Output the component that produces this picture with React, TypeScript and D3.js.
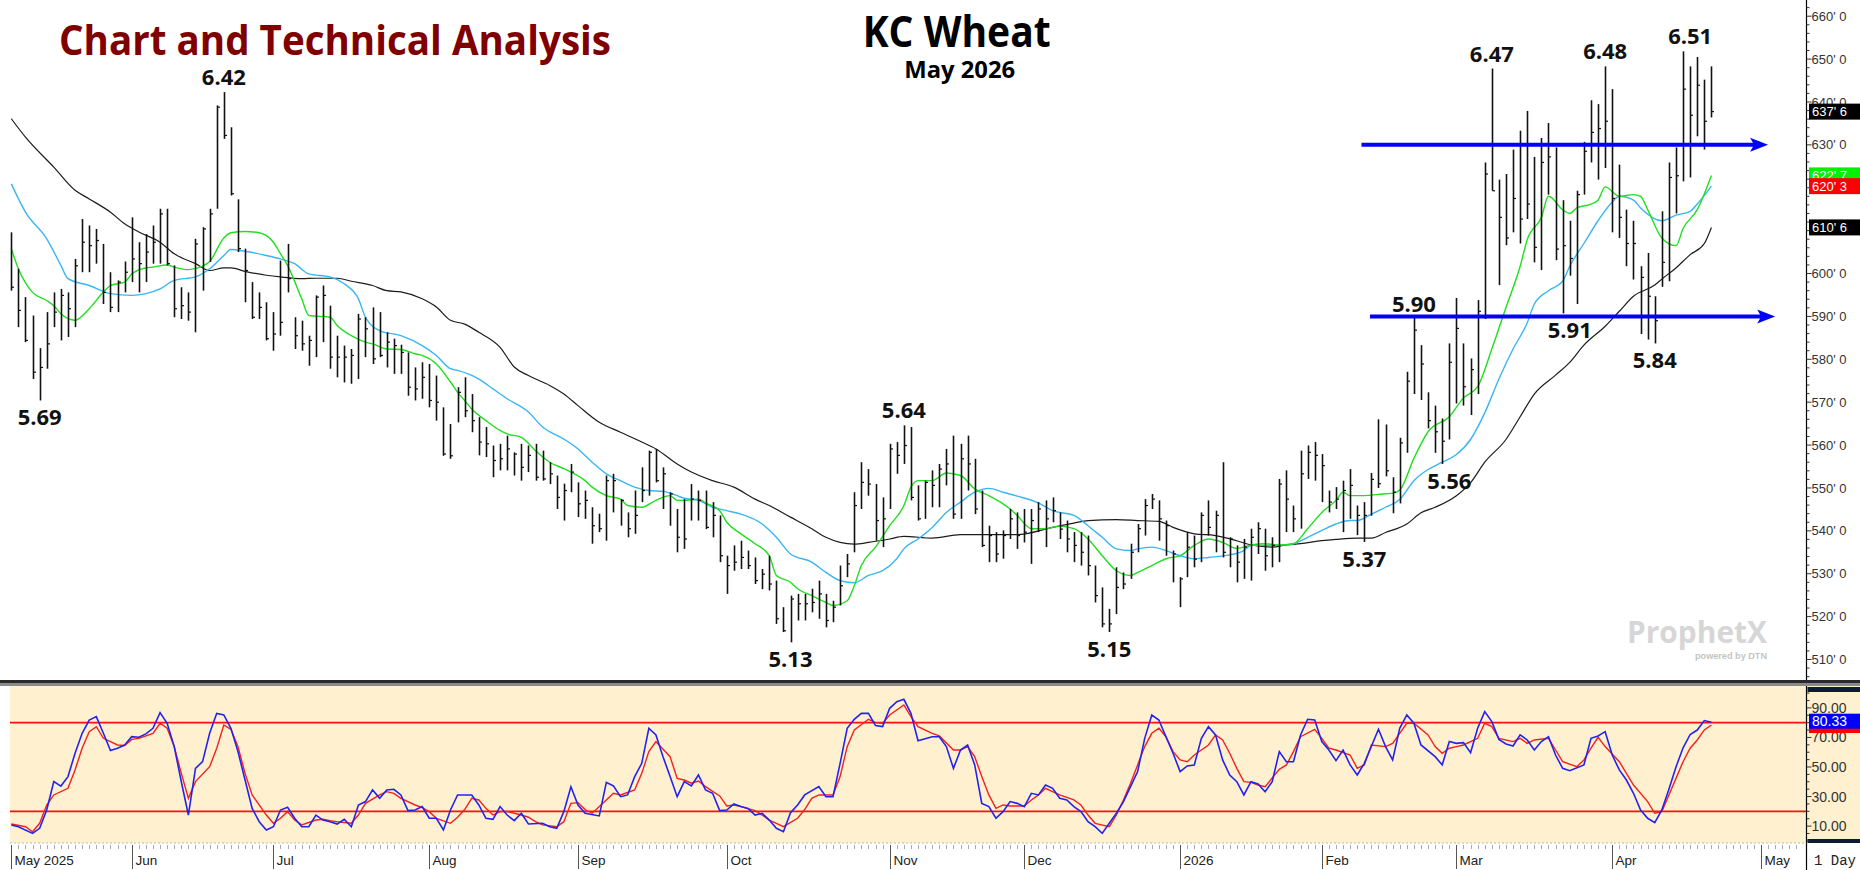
import React from "react";
import * as d3 from "d3";

// ---------- DATA ----------
// Daily bars, trading-day index 0 = 7 May 2025 ... 240 = 22 Apr 2026 (cents/bu)
const highs = [
  609.6, 601.1, 594.5, 590.2, 582.6, 591.0, 595.6, 596.4, 595.6, 603.4,
  612.7, 611.2, 610.4, 606.9, 600.3, 598.4, 602.8, 613.1, 607.3, 609.2,
  611.2, 615.1, 615.1, 601.9, 596.8, 595.6, 608.1, 610.8, 615.1, 639.2,
  642.3, 634.1, 617.3, 605.8, 598.0, 595.6, 593.3, 591.0, 603.0, 606.9,
  589.8, 589.0, 585.5, 594.9, 597.2, 592.5, 585.5, 583.2, 582.4, 590.6,
  589.8, 592.1, 591.0, 586.3, 584.8, 583.4, 581.6, 578.1, 579.3, 578.9,
  576.2, 568.8, 564.9, 573.5, 575.8, 571.9, 566.5, 564.2, 559.9, 560.3,
  562.2, 558.3, 560.3, 559.9, 560.3, 558.7, 556.0, 552.9, 551.0, 555.6,
  551.3, 549.4, 545.5, 544.0, 552.9, 553.3, 547.4, 544.3, 549.4, 554.8,
  558.7, 559.1, 554.8, 549.0, 545.1, 547.4, 550.9, 549.4, 549.4, 546.7,
  543.6, 534.2, 536.6, 537.7, 535.4, 533.8, 531.1, 534.2, 528.4, 522.2,
  524.9, 525.3, 525.3, 526.5, 528.4, 525.3, 523.7, 531.9, 534.6, 549.0,
  556.0, 554.4, 550.9, 547.8, 560.3, 560.7, 564.6, 564.2, 550.6, 551.7,
  554.1, 555.6, 559.1, 562.2, 560.3, 562.2, 556.8, 549.4, 541.2, 539.7,
  540.1, 545.1, 544.3, 545.1, 545.1, 546.7, 547.1, 547.8, 544.3, 542.4,
  539.7, 539.7, 538.9, 531.9, 526.8, 521.8, 531.5, 530.3, 537.0, 541.6,
  547.4, 548.6, 547.1, 542.4, 535.4, 529.2, 539.7, 538.9, 544.3, 547.1,
  544.7, 556.0, 538.5, 536.6, 538.1, 540.5, 542.0, 540.5, 538.5, 552.1,
  554.1, 545.9, 558.7, 559.9, 560.7, 557.9, 549.4, 550.2, 551.7, 554.4,
  545.9, 546.7, 553.5, 566.0, 564.8, 552.5, 561.7, 577.1, 589.9, 583.3,
  572.3, 569.2, 566.2, 583.7, 594.3, 583.7, 580.2, 593.8, 625.9, 647.8,
  621.9, 623.2, 628.9, 633.3, 637.9, 627.2, 631.6, 635.1, 629.4, 617.1,
  612.3, 619.3, 630.7, 640.4, 639.5, 648.3, 643.0, 625.4, 614.9, 612.3,
  601.7, 604.8, 594.7, 614.5, 625.9, 629.4, 651.8, 648.3, 650.5, 645.2,
  648.3,
];
const lows = [
  596.0, 587.5, 584.0, 575.4, 570.4, 577.8, 587.5, 584.4, 585.2, 587.5,
  600.3, 600.3, 602.3, 592.9, 591.0, 591.0, 595.6, 598.0, 595.6, 598.0,
  602.3, 602.3, 601.9, 589.8, 589.4, 589.0, 586.3, 596.0, 602.7, 615.1,
  631.4, 618.2, 605.0, 593.3, 589.4, 589.4, 584.4, 582.0, 585.5, 595.6,
  582.4, 582.0, 578.5, 580.5, 584.0, 577.8, 575.8, 574.6, 574.3, 575.4,
  580.5, 578.9, 580.5, 578.1, 576.6, 576.6, 571.5, 570.4, 570.8, 568.8,
  565.7, 557.5, 556.8, 565.3, 566.5, 563.0, 557.6, 557.2, 552.5, 554.1,
  554.1, 552.9, 551.7, 553.7, 551.7, 551.7, 550.9, 545.1, 542.4, 549.0,
  543.2, 542.8, 537.0, 539.7, 537.7, 544.3, 541.2, 538.5, 539.3, 546.7,
  548.2, 551.3, 545.1, 541.2, 535.0, 535.8, 542.4, 542.4, 540.4, 538.5,
  532.7, 525.3, 530.7, 531.1, 531.1, 527.6, 526.4, 526.1, 518.3, 516.4,
  514.0, 519.1, 519.1, 521.0, 519.5, 517.5, 518.7, 522.6, 529.2, 535.0,
  545.1, 548.2, 537.7, 536.2, 545.1, 553.3, 555.6, 547.1, 542.4, 542.8,
  545.5, 545.5, 550.6, 542.8, 542.8, 549.4, 543.9, 536.2, 532.7, 532.7,
  533.5, 538.1, 535.8, 537.3, 532.3, 539.7, 536.2, 542.0, 538.1, 535.0,
  532.7, 531.9, 529.6, 523.3, 517.5, 516.4, 520.6, 526.4, 528.8, 535.0,
  538.9, 545.1, 537.7, 534.2, 528.0, 522.2, 529.2, 531.5, 532.7, 538.9,
  535.0, 533.8, 531.5, 528.0, 528.8, 528.4, 534.6, 530.7, 531.5, 532.7,
  539.7, 539.7, 540.5, 552.1, 551.7, 546.7, 544.3, 545.1, 539.7, 542.8,
  539.0, 537.4, 543.5, 550.0, 552.7, 544.1, 546.4, 558.2, 571.9, 570.5,
  563.9, 558.2, 555.6, 561.3, 569.7, 569.2, 567.0, 571.9, 589.4, 619.3,
  597.3, 606.6, 609.6, 607.0, 612.7, 602.6, 600.8, 618.4, 603.1, 590.7,
  599.5, 592.9, 618.4, 625.9, 621.9, 624.6, 609.6, 608.3, 601.7, 598.6,
  585.9, 584.6, 583.7, 596.9, 598.2, 614.0, 621.5, 622.4, 632.0, 628.9,
  636.4,
];
const closes = [
  596.8, 591.4, 584.4, 577.0, 578.1, 583.6, 591.0, 594.9, 591.8, 601.8,
  607.3, 606.5, 607.7, 595.6, 592.1, 598.0, 600.3, 603.4, 602.3, 605.0,
  607.3, 613.9, 602.3, 591.8, 592.5, 591.0, 606.9, 610.4, 613.9, 638.8,
  632.2, 618.6, 605.8, 600.7, 589.8, 592.1, 584.8, 585.9, 588.6, 598.8,
  585.5, 583.6, 584.4, 594.5, 594.9, 580.5, 580.5, 580.5, 580.9, 589.4,
  587.1, 580.1, 580.9, 584.0, 583.2, 581.6, 573.5, 573.1, 575.8, 570.4,
  570.0, 557.9, 557.5, 572.3, 568.0, 565.7, 560.7, 560.3, 556.4, 556.8,
  559.1, 557.9, 554.8, 557.6, 552.5, 552.1, 553.3, 547.8, 549.4, 553.7,
  546.3, 547.1, 541.2, 540.5, 551.7, 551.7, 547.1, 540.5, 543.6, 549.4,
  558.3, 551.7, 553.3, 548.6, 538.5, 538.1, 547.4, 547.1, 540.8, 543.6,
  534.2, 531.9, 532.7, 533.8, 531.9, 528.4, 529.9, 527.6, 519.5, 516.7,
  524.1, 523.0, 523.0, 523.3, 525.3, 519.1, 522.2, 527.2, 532.3, 545.9,
  551.3, 550.9, 542.4, 542.8, 559.1, 557.6, 559.9, 547.8, 542.8, 551.3,
  550.6, 554.4, 555.6, 543.9, 556.8, 555.6, 545.1, 536.6, 538.9, 534.6,
  538.9, 542.8, 538.9, 539.7, 542.4, 545.1, 542.8, 544.7, 540.4, 538.1,
  536.6, 535.0, 531.9, 524.9, 518.3, 518.3, 526.8, 527.6, 535.0, 540.5,
  545.9, 547.4, 542.8, 541.2, 534.6, 528.8, 536.2, 533.4, 543.6, 540.8,
  543.6, 535.0, 538.1, 532.7, 536.2, 538.5, 540.5, 534.2, 536.6, 550.9,
  547.4, 542.8, 553.3, 558.3, 557.6, 555.2, 546.7, 547.4, 549.4, 550.6,
  543.6, 543.6, 552.0, 551.0, 554.0, 549.0, 560.5, 574.9, 586.8, 578.9,
  565.7, 563.1, 560.9, 579.3, 587.2, 573.6, 577.6, 591.2, 623.2, 619.3,
  613.1, 608.3, 617.5, 612.7, 616.2, 606.1, 625.9, 627.2, 605.7, 606.5,
  603.5, 618.4, 628.5, 632.9, 633.8, 635.5, 617.5, 613.1, 607.0, 607.0,
  599.1, 594.7, 589.0, 602.6, 622.4, 622.8, 643.0, 636.9, 643.9, 635.5,
  637.75,
];

// Moving averages: [trading day, value]
const greenMA: [number, number][] = [
  [0, 605.8], [1, 601.1], [3, 595.6], [5, 593.7], [6, 592.5], [7, 590.6], [9, 589.1], [11, 591.8],
  [13, 595.7], [14, 597.2], [16, 598.0], [17, 599.9], [19, 601.3], [20, 601.5], [22, 602.0], [23, 601.5],
  [25, 600.9], [27, 601.7], [28, 602.8], [30, 608.3], [31, 609.5], [33, 609.8], [35, 609.5], [37, 607.3],
  [38, 604.6], [39, 601.9], [41, 594.1], [42, 590.2], [45, 589.8], [46, 587.9], [48, 585.5], [50, 584.0],
  [51, 583.6], [53, 582.4], [55, 582.3], [57, 581.3], [58, 580.9], [60, 578.9], [62, 574.7], [63, 572.3],
  [64, 570.4], [65, 568.4], [67, 565.7], [69, 563.4], [70, 562.6], [72, 561.8], [74, 558.7], [76, 556.0],
  [78, 554.5], [79, 553.7], [81, 551.7], [82, 550.2], [84, 548.2], [86, 547.4], [87, 545.9], [89, 545.5],
  [91, 547.1], [93, 548.2], [94, 547.1], [95, 547.1], [97, 547.4], [98, 546.5], [100, 544.7], [101, 542.0],
  [103, 539.3], [105, 537.0], [107, 534.2], [108, 529.6], [110, 528.0], [111, 526.5], [113, 524.9],
  [115, 523.3], [116, 522.6], [118, 523.7], [119, 527.2], [120, 531.9], [122, 536.2], [124, 541.2],
  [126, 545.9], [127, 550.2], [128, 551.7], [130, 551.7], [132, 553.5], [134, 552.9], [136, 549.8],
  [138, 548.2], [140, 546.3], [141, 545.1], [142, 543.6], [144, 540.5], [146, 540.5], [148, 541.1],
  [150, 540.5], [152, 538.1], [154, 534.2], [156, 530.7], [158, 529.6], [159, 530.3], [161, 531.9],
  [163, 533.5], [165, 534.2], [167, 536.6], [169, 538.1], [171, 537.3], [173, 535.9], [174, 536.2],
  [175, 536.7], [177, 537.0], [179, 536.7], [181, 537.0], [183, 540.5], [185, 544.3], [187, 547.1],
  [188, 549.0], [189, 548.2], [191, 548.2], [193, 548.5], [195, 548.8], [196, 549.5], [198, 556.9],
  [200, 563.1], [203, 566.6], [205, 571.0], [207, 573.6], [209, 582.4], [211, 592.1], [213, 601.7],
  [214, 607.9], [216, 613.1], [217, 618.0], [219, 614.9], [220, 614.0], [221, 615.3], [223, 616.2],
  [224, 617.1], [225, 620.2], [227, 618.0], [229, 618.4], [230, 618.0], [231, 614.9], [233, 608.3],
  [235, 606.5], [236, 610.5], [238, 614.9], [240, 622.875],
];
const blueMA: [number, number][] = [
  [0, 620.9], [2, 614.3], [5, 608.1], [7, 601.9], [8, 598.8], [11, 597.2], [14, 595.3], [17, 594.9],
  [19, 595.3], [21, 596.4], [23, 598.4], [26, 599.2], [28, 601.1], [30, 604.2], [31, 605.6], [33, 605.2],
  [36, 604.2], [38, 603.4], [40, 602.3], [42, 599.9], [45, 599.2], [47, 597.6], [49, 594.1], [50, 589.8],
  [52, 586.7], [55, 585.5], [58, 583.2], [60, 580.9], [62, 577.8], [63, 577.4], [66, 575.4], [68, 573.1],
  [70, 570.8], [73, 567.7], [75, 564.2], [78, 561.4], [80, 559.1], [82, 556.0], [84, 553.3], [86, 551.7],
  [88, 550.2], [90, 549.4], [92, 549.2], [94, 548.2], [95, 547.6], [97, 547.1], [99, 545.5], [101, 544.7],
  [103, 543.9], [106, 541.6], [108, 538.5], [110, 534.6], [113, 532.7], [115, 530.3], [117, 528.4],
  [119, 527.9], [121, 529.6], [123, 530.7], [125, 533.5], [126, 535.8], [128, 538.1], [130, 540.8],
  [132, 544.3], [134, 546.7], [136, 549.0], [138, 549.9], [140, 549.0], [142, 548.1], [145, 546.5],
  [147, 544.7], [150, 543.6], [152, 541.2], [154, 538.5], [156, 535.8], [158, 535.4], [159, 535.8],
  [161, 536.2], [163, 535.4], [165, 534.2], [167, 533.5], [169, 533.8], [172, 534.4], [174, 535.4],
  [175, 536.6], [177, 536.6], [179, 536.7], [181, 537.0], [183, 538.5], [185, 540.1], [187, 541.6],
  [189, 542.4], [190, 542.4], [192, 543.9], [194, 545.5], [196, 547.3], [198, 551.7], [200, 554.3],
  [202, 556.0], [204, 557.8], [206, 561.3], [208, 567.5], [210, 575.4], [212, 582.4], [214, 588.5],
  [215, 592.9], [217, 596.0], [219, 598.2], [220, 601.7], [222, 607.0], [224, 612.3], [226, 616.7],
  [227, 618.0], [229, 617.1], [230, 615.3], [233, 612.3], [235, 613.6], [237, 614.5], [238, 616.2],
  [240, 620.375],
];
const blackMA: [number, number][] = [
  [0, 636.1], [2, 631.8], [6, 624.8], [9, 619.4], [11, 617.4], [14, 614.3], [16, 611.6], [18, 609.7],
  [21, 607.3], [23, 604.6], [26, 602.3], [28, 600.7], [30, 601.3], [31, 601.3], [33, 600.5], [36, 599.6],
  [38, 599.2], [41, 598.8], [43, 598.9], [46, 598.9], [48, 598.2], [51, 597.2], [53, 596.0], [55, 595.7],
  [58, 594.1], [60, 592.2], [62, 589.1], [64, 588.2], [66, 586.3], [69, 582.8], [71, 578.2], [73, 576.2],
  [76, 573.9], [78, 571.9], [80, 569.2], [83, 565.3], [86, 563.0], [89, 560.7], [91, 559.1], [94, 555.6],
  [96, 553.7], [99, 551.7], [102, 550.2], [105, 547.4], [107, 545.9], [110, 543.2], [113, 540.5],
  [115, 538.5], [117, 537.3], [119, 536.9], [121, 537.3], [124, 538.1], [126, 538.7], [130, 538.3],
  [134, 539.1], [138, 539.1], [142, 539.1], [147, 540.8], [150, 541.8], [152, 542.4], [156, 542.6],
  [159, 542.4], [162, 542.2], [164, 540.8], [167, 539.3], [170, 538.9], [173, 537.7], [175, 536.7],
  [178, 536.2], [180, 536.7], [182, 537.0], [185, 537.7], [187, 538.0], [190, 538.3], [192, 538.3],
  [194, 539.6], [197, 541.6], [199, 544.2], [201, 545.5], [204, 548.2], [206, 551.2], [208, 556.0],
  [211, 561.3], [213, 566.6], [215, 571.9], [218, 576.3], [220, 579.3], [222, 583.3], [225, 587.7],
  [227, 591.2], [229, 594.7], [232, 597.3], [233, 598.7], [235, 601.3], [237, 604.4], [239, 607.0],
  [240, 610.75],
];

// Slow stochastic: %K (blue) and %D (red), [trading day, value]
const stochK: [number, number][] = [
  [0, 10.8], [1, 9.6], [3, 5.1], [4, 8.5], [5, 20.9], [6, 40.1], [7, 37.1], [8, 43.5], [9, 59.3], [10, 72.8],
  [11, 81.8], [12, 84.1], [13, 72.8], [14, 61.1], [15, 62.7], [16, 64.9], [17, 70.5], [18, 70.1], [19, 72.4],
  [20, 76.2], [21, 86.8], [22, 79.6], [23, 63.8], [24, 40.0], [25, 17.5], [26, 49.1], [27, 53.6], [28, 72.8],
  [29, 86.3], [30, 85.2], [31, 76.2], [32, 60.4], [33, 41.2], [34, 22.0], [35, 13.0], [36, 7.4], [37, 9.6],
  [38, 20.9], [39, 22.7], [40, 15.3], [41, 9.6], [42, 9.6], [43, 17.5], [44, 14.1], [45, 13.0], [46, 11.4],
  [47, 14.6], [48, 9.6], [49, 24.3], [50, 26.6], [51, 34.5], [52, 28.8], [53, 34.5], [54, 34.9], [55, 31.1],
  [56, 20.5], [57, 20.9], [58, 23.2], [59, 15.3], [60, 15.3], [61, 7.4], [62, 20.9], [63, 31.1], [65, 31.1],
  [66, 24.3], [67, 15.3], [68, 14.6], [69, 23.2], [70, 17.5], [71, 13.7], [72, 18.7], [73, 11.4], [75, 11.9],
  [76, 9.6], [77, 8.5], [78, 19.8], [79, 36.7], [80, 24.3], [81, 18.7], [83, 16.9], [84, 39.6], [85, 37.2],
  [86, 29.9], [87, 31.1], [88, 43.5], [89, 52.5], [90, 76.2], [91, 71.7], [92, 57.0], [93, 43.5], [94, 29.9],
  [95, 40.1], [96, 37.2], [97, 44.6], [98, 34.5], [99, 32.2], [100, 20.5], [101, 20.9], [102, 25.0],
  [103, 23.2], [104, 22.0], [105, 17.5], [106, 18.7], [107, 14.1], [108, 8.5], [109, 6.2], [110, 19.1],
  [111, 24.3], [112, 31.1], [114, 36.7], [115, 29.9], [116, 29.9], [117, 52.5], [118, 76.2], [119, 82.3],
  [120, 86.3], [121, 86.3], [122, 78.0], [123, 77.3], [124, 89.7], [125, 94.2], [126, 95.8], [127, 86.3],
  [128, 67.8], [130, 70.5], [131, 70.5], [132, 63.8], [133, 49.1], [134, 61.5], [135, 64.9], [136, 51.4],
  [137, 25.4], [138, 23.2], [139, 15.3], [140, 19.8], [141, 26.6], [142, 25.4], [143, 23.2], [144, 32.2],
  [145, 31.1], [146, 37.8], [147, 35.6], [148, 28.8], [149, 27.7], [150, 23.2], [151, 19.8], [152, 13.0],
  [153, 9.6], [154, 5.1], [155, 11.9], [156, 18.7], [157, 26.6], [158, 36.7], [159, 46.9], [160, 69.4],
  [161, 85.2], [162, 81.8], [163, 70.5], [164, 59.3], [165, 46.9], [166, 50.7], [167, 51.4], [168, 69.4],
  [169, 77.3], [170, 71.7], [171, 54.8], [172, 44.6], [173, 40.1], [174, 31.1], [175, 40.1], [176, 38.5],
  [177, 33.3], [178, 40.1], [179, 60.4], [180, 53.6], [181, 53.6], [182, 71.7], [183, 82.3], [184, 81.8],
  [185, 67.2], [186, 61.5], [187, 54.3], [188, 61.5], [189, 51.4], [190, 44.6], [191, 52.5], [193, 75.5],
  [194, 63.8], [195, 54.8], [196, 76.2], [197, 85.2], [198, 79.6], [199, 64.9], [201, 57.0], [202, 51.4],
  [203, 67.2], [204, 66.0], [205, 66.5], [206, 59.7], [207, 76.2], [208, 87.5], [209, 80.7], [210, 68.7],
  [211, 65.6], [212, 64.2], [213, 71.7], [214, 68.3], [215, 61.5], [216, 67.2], [217, 70.5], [218, 58.1],
  [219, 49.1], [220, 47.5], [222, 51.4], [223, 69.4], [224, 71.0], [225, 73.9], [226, 58.1], [227, 48.0],
  [228, 41.2], [229, 32.2], [230, 20.9], [231, 15.3], [232, 12.3], [233, 20.9], [234, 35.0], [235, 50.0],
  [236, 63.0], [237, 72.0], [238, 75.0], [239, 81.4], [240, 80.33],
];
const stochD: [number, number][] = [
  [0, 11.4], [2, 9.6], [3, 6.2], [4, 11.9], [5, 24.3], [6, 31.1], [8, 35.6], [9, 48.0], [10, 62.7], [11, 73.9],
  [12, 77.3], [13, 69.4], [15, 64.9], [16, 64.5], [17, 68.7], [18, 69.4], [20, 72.8], [21, 79.6], [22, 76.2],
  [23, 63.8], [24, 45.7], [25, 28.8], [26, 40.1], [28, 50.2], [29, 62.7], [30, 78.4], [31, 75.5], [32, 63.8],
  [33, 45.7], [34, 31.1], [36, 17.5], [37, 11.9], [38, 15.3], [39, 19.8], [40, 14.1], [41, 10.8], [43, 14.1],
  [44, 14.6], [45, 13.7], [46, 13.0], [48, 11.9], [49, 17.5], [50, 25.4], [52, 31.1], [53, 33.3], [54, 32.2],
  [55, 28.8], [57, 24.3], [58, 22.5], [59, 19.8], [60, 15.3], [62, 11.9], [63, 16.0], [64, 21.2], [65, 28.8],
  [66, 27.7], [67, 22.0], [68, 17.5], [69, 19.8], [70, 19.8], [72, 17.5], [73, 16.0], [74, 13.0], [75, 10.8],
  [77, 9.6], [78, 13.0], [79, 25.4], [80, 25.9], [81, 21.2], [82, 18.7], [84, 27.7], [85, 32.2], [86, 31.1],
  [88, 34.5], [89, 45.7], [90, 60.4], [91, 67.2], [93, 57.0], [94, 42.3], [95, 41.2], [96, 39.0], [97, 40.5],
  [98, 36.7], [100, 30.4], [101, 23.6], [102, 24.3], [103, 23.2], [105, 20.5], [106, 17.5], [107, 14.1],
  [108, 11.9], [109, 9.6], [111, 15.3], [112, 21.2], [113, 28.8], [114, 31.1], [116, 31.1], [117, 43.5],
  [118, 63.8], [119, 75.1], [121, 82.3], [122, 80.0], [123, 79.6], [124, 85.2], [126, 92.0], [127, 84.1],
  [128, 77.3], [130, 72.8], [131, 71.0], [133, 61.5], [134, 61.5], [135, 63.8], [136, 57.0], [137, 43.5],
  [138, 31.1], [139, 22.0], [140, 24.3], [141, 23.6], [143, 23.6], [144, 27.7], [145, 31.1], [146, 35.6],
  [147, 33.3], [148, 31.1], [150, 27.7], [151, 24.3], [152, 17.5], [153, 11.9], [155, 9.6], [156, 17.5],
  [157, 27.7], [158, 39.0], [159, 51.4], [160, 63.8], [161, 72.8], [162, 76.2], [163, 70.5], [164, 60.4],
  [165, 54.8], [166, 53.6], [167, 58.1], [169, 64.9], [170, 71.7], [171, 68.3], [172, 59.3], [173, 49.1],
  [174, 40.1], [175, 39.6], [176, 37.8], [177, 36.7], [179, 48.4], [180, 51.4], [181, 60.4], [182, 70.5],
  [184, 75.5], [185, 69.4], [186, 62.7], [187, 61.5], [189, 58.1], [190, 49.1], [191, 51.4], [192, 64.9],
  [194, 63.8], [195, 66.0], [196, 72.8], [197, 79.6], [198, 79.6], [200, 71.7], [201, 63.8], [202, 59.3],
  [203, 62.7], [204, 63.8], [205, 64.9], [207, 69.4], [208, 79.6], [209, 77.3], [210, 69.4], [212, 67.2],
  [213, 69.4], [214, 66.0], [215, 68.3], [217, 69.4], [218, 61.5], [219, 53.6], [221, 50.2], [222, 54.8],
  [223, 62.7], [224, 70.1], [225, 63.8], [227, 53.6], [228, 45.7], [229, 37.8], [231, 26.6], [232, 18.7],
  [233, 19.8], [234, 31.1], [235, 42.3], [236, 53.6], [237, 62.7], [238, 68.3], [239, 75.1], [240, 78.4],
];

// Month ticks (label, trading-day index of first session)
const monthLabels = ["May 2025", "Jun", "Jul", "Aug", "Sep", "Oct", "Nov", "Dec", "2026", "Feb", "Mar", "Apr", "May"];
const monthStartDays = [0, 17, 37, 59, 80, 101, 124, 143, 165, 185, 204, 226, 247];

const priceTickValues = [510, 520, 530, 540, 550, 560, 570, 580, 590, 600, 610, 620, 630, 640, 650, 660];
const stochTickValues = [10, 30, 50, 70, 90];
const stochLevels = [20, 80];

// Pivot annotations
const pivotTexts = ["5.69", "6.42", "5.13", "5.64", "5.15", "5.37", "5.90", "5.56", "6.47", "5.91", "6.48", "5.84", "6.51"];
const pivotDays = [4, 30, 110, 126, 155, 191, 198, 203, 209, 220, 225, 232, 237];
const pivotPrices = [570.4, 642.3, 514.0, 564.6, 516.4, 537.4, 589.4, 555.6, 647.8, 590.7, 648.3, 583.7, 651.8];
const pivotSides = ["below", "above", "below", "above", "below", "below", "above", "below", "above", "below", "above", "below", "above"];

// Horizontal support / resistance arrows
const srPrices = [630, 590];
const srFromDays = [190.6, 191.8];
const srToDays = [248.0, 249.0];

// ---------- COMPONENT ----------
const W = 1860;
const H = 870;
const PLOT_L = 10;
const PLOT_R = 1806.5;
const PRICE_BOTTOM = 680;
const ST_TOP = 686;
const ST_BOTTOM = 843;

const fmtEighths = (p: number) => {
  const whole = Math.floor(p + 1e-9);
  const e = Math.round((p - whole) * 8);
  return `${whole}' ${e}`;
};

export default function App() {
  const x = d3.scaleLinear().domain([0, 247]).range([11.3, 1761]);
  const y = d3.scaleLinear().domain([510, 660]).range([659.5, 16.2]);
  const ys = d3.scaleLinear().domain([0, 100]).range([840.9, 693.1]);

  const maLine = d3
    .line<[number, number]>()
    .x((d) => x(d[0]))
    .y((d) => y(d[1]))
    .curve(d3.curveMonotoneX);
  const stLine = d3
    .line<[number, number]>()
    .x((d) => x(d[0]))
    .y((d) => ys(d[1]));

  const minorPriceTicks = d3.range(506, 663, 2).filter((v) => v % 10 !== 0);
  const dayTicks = d3.range(0, 253);
  const stochMinor = d3.range(0, 101, 5).filter((v) => !stochTickValues.includes(v));

  const boldFont = "'Open Sans', 'DejaVu Sans', sans-serif";
  const axisFont = "'Liberation Sans', Arial, sans-serif";

  const valueBox = (val: number, bg: string, key: string, txt: string) => {
    const cy = y(val);
    return (
      <g key={key}>
        <rect x={1809} y={cy - 8} width={51} height={16} fill={bg} />
        <text x={1812} y={cy + 4.6} fontSize={13} fontFamily={axisFont} fill="#fff">
          {txt}
        </text>
      </g>
    );
  };

  return (
    <div style={{ position: "absolute", left: 0, top: 0, width: W, height: H, background: "#fff" }}>
      <svg width={W} height={H} viewBox={`0 0 ${W} ${H}`} style={{ display: "block" }}>
        <defs>
          <clipPath id="pclip">
            <rect x={PLOT_L - 2} y={0} width={PLOT_R - PLOT_L + 2} height={PRICE_BOTTOM} />
          </clipPath>
          <clipPath id="sclip">
            <rect x={PLOT_L} y={ST_TOP} width={PLOT_R - PLOT_L} height={ST_BOTTOM - ST_TOP} />
          </clipPath>
        </defs>
        <rect x={0} y={0} width={W} height={H} fill="#fff" />

        {/* ---------- price panel ---------- */}
        <g clipPath="url(#pclip)">
          {/* moving averages */}
          <path d={maLine(blackMA) || ""} fill="none" stroke="#1c1c1c" strokeWidth={1.2} />
          <path d={maLine(blueMA) || ""} fill="none" stroke="#38b6f2" strokeWidth={1.4} />
          <path d={maLine(greenMA) || ""} fill="none" stroke="#1ee01e" strokeWidth={1.4} />
          {/* OHLC bars */}
          {highs.map((h, i) => {
            const cx = Math.round(x(i)) + 0.5;
            return (
              <g key={i}>
                <line x1={cx} x2={cx} y1={y(h)} y2={y(lows[i])} stroke="#111" strokeWidth={1.6} />
                <line x1={cx} x2={cx + 2.5} y1={y(closes[i])} y2={y(closes[i])} stroke="#111" strokeWidth={1.2} />
              </g>
            );
          })}
          {/* support / resistance arrows */}
          {srPrices.map((p, k) => {
            const x1 = x(srFromDays[k]);
            const x2 = x(srToDays[k]);
            const yy = y(p);
            return (
              <g key={`sr${k}`}>
                <line x1={x1} x2={x2 - 14} y1={yy} y2={yy} stroke="#0000ff" strokeWidth={4} />
                <path d={`M${x2},${yy} L${x2 - 18},${yy - 7} L${x2 - 14},${yy} L${x2 - 18},${yy + 7} Z`} fill="#0000ff" />
              </g>
            );
          })}
        </g>

        {/* pivot labels */}
        {pivotTexts.map((t, k) => {
          const px = x(pivotDays[k]);
          const py = pivotSides[k] === "above" ? y(pivotPrices[k]) - 7 : y(pivotPrices[k]) + 25;
          return (
            <text key={`pv${k}`} x={px} y={py} textAnchor="middle" fontSize={22} fontWeight={700} fontFamily={boldFont} fill="#111">
              {t}
            </text>
          );
        })}

        {/* titles */}
        <text x={59} y={55} fontSize={41} fontWeight={700} fontFamily={boldFont} fill="#800000" textLength={552} lengthAdjust="spacingAndGlyphs">
          Chart and Technical Analysis
        </text>
        <text x={956.7} y={46.7} textAnchor="middle" fontSize={43} fontWeight={700} fontFamily={boldFont} fill="#000" textLength={188} lengthAdjust="spacingAndGlyphs">
          KC Wheat
        </text>
        <text x={959.7} y={78.3} textAnchor="middle" fontSize={23} fontWeight={700} fontFamily={boldFont} fill="#000" textLength={111} lengthAdjust="spacingAndGlyphs">
          May 2026
        </text>

        {/* ProphetX logo */}
        <text x={1627} y={643} fontSize={30} fontWeight={700} fontFamily={boldFont} fill="#d6d6d6" textLength={140} lengthAdjust="spacingAndGlyphs">
          ProphetX
        </text>
        <text x={1695} y={659} fontSize={9.5} fontWeight={700} fontFamily={axisFont} fill="#c4c4c4" textLength={72} lengthAdjust="spacingAndGlyphs">
          powered by DTN
        </text>

        {/* price axis */}
        <line x1={PLOT_R} x2={PLOT_R} y1={0} y2={PRICE_BOTTOM} stroke="#000" strokeWidth={1.2} />
        {minorPriceTicks.map((v) => (
          <line key={`mp${v}`} x1={PLOT_R} x2={PLOT_R + 3} y1={y(v)} y2={y(v)} stroke="#333" strokeWidth={1} />
        ))}
        {priceTickValues.map((v) => (
          <g key={`pt${v}`}>
            <line x1={PLOT_R} x2={PLOT_R + 5} y1={y(v)} y2={y(v)} stroke="#333" strokeWidth={1} />
            <text x={1811.5} y={y(v) + 4.6} fontSize={13} fontFamily={axisFont} fill="#333">
              {fmtEighths(v)}
            </text>
          </g>
        ))}
        {valueBox(closes[closes.length - 1], "#000", "vb1", fmtEighths(closes[closes.length - 1]))}
        {valueBox(greenMA[greenMA.length - 1][1], "#00f000", "vb2", fmtEighths(greenMA[greenMA.length - 1][1]))}
        {valueBox(blueMA[blueMA.length - 1][1], "#ff0000", "vb3", fmtEighths(blueMA[blueMA.length - 1][1]))}
        {valueBox(blackMA[blackMA.length - 1][1], "#000", "vb4", fmtEighths(blackMA[blackMA.length - 1][1]))}

        {/* panel separator */}
        <rect x={0} y={PRICE_BOTTOM} width={W} height={3} fill="#2a2a2a" />
        <rect x={0} y={PRICE_BOTTOM + 3} width={W} height={3} fill="#8a8a8a" />

        {/* ---------- stochastic panel ---------- */}
        <rect x={PLOT_L} y={ST_TOP} width={W - PLOT_L} height={ST_BOTTOM - ST_TOP} fill="#fff1cf" />
        <rect x={PLOT_R + 1} y={ST_TOP + 1} width={W - PLOT_R} height={5} fill="#0d1a38" />
        <rect x={PLOT_R + 1} y={ST_BOTTOM - 4} width={W - PLOT_R} height={4} fill="#0d1a38" />
        {stochLevels.map((v) => (
          <line key={`sl${v}`} x1={PLOT_L} x2={PLOT_R} y1={ys(v)} y2={ys(v)} stroke="#ff1010" strokeWidth={1.8} />
        ))}
        <g clipPath="url(#sclip)">
          <path d={stLine(stochD) || ""} fill="none" stroke="#f42020" strokeWidth={1.4} />
          <path d={stLine(stochK) || ""} fill="none" stroke="#2323f0" strokeWidth={1.6} />
        </g>
        <line x1={PLOT_R} x2={PLOT_R} y1={ST_TOP} y2={ST_BOTTOM} stroke="#000" strokeWidth={1.2} />
        {stochMinor.map((v) => (
          <line key={`sm${v}`} x1={PLOT_R} x2={PLOT_R + 3} y1={ys(v)} y2={ys(v)} stroke="#333" strokeWidth={1} />
        ))}
        {stochTickValues.map((v) => (
          <g key={`st${v}`}>
            <line x1={PLOT_R} x2={PLOT_R + 5} y1={ys(v)} y2={ys(v)} stroke="#333" strokeWidth={1} />
            <text x={1811.5} y={ys(v) + 5} fontSize={14} fontFamily={axisFont} fill="#333">
              {v.toFixed(2)}
            </text>
          </g>
        ))}
        {(() => {
          const dLast = stochD[stochD.length - 1][1];
          const kLast = stochK[stochK.length - 1][1];
          return (
            <g>
              <rect x={1809} y={ys(dLast) - 7} width={51} height={15} fill="#ff0000" />
              <rect x={1809} y={ys(kLast) - 8.5} width={51} height={15} fill="#0000ff" />
              <text x={1812} y={ys(kLast) + 4} fontSize={14} fontFamily={axisFont} fill="#fff">
                {kLast.toFixed(2)}
              </text>
            </g>
          );
        })()}
        <line x1={PLOT_L} x2={PLOT_R} y1={ST_BOTTOM} y2={ST_BOTTOM} stroke="#bbb" strokeWidth={1} strokeDasharray="2,2" />

        {/* ---------- time axis ---------- */}
        {dayTicks.map((d) =>
          x(d) < PLOT_R - 1 ? (
            <line key={`dt${d}`} x1={Math.round(x(d)) + 0.5} x2={Math.round(x(d)) + 0.5} y1={845} y2={849} stroke="#aaa" strokeWidth={1} />
          ) : null
        )}
        {monthLabels.map((lab, k) => {
          const mx = Math.round(x(monthStartDays[k])) + 0.5;
          return (
            <g key={`m${k}`}>
              <line x1={mx} x2={mx} y1={845} y2={869} stroke="#555" strokeWidth={1} />
              <text x={mx + 3} y={865} fontSize={13.5} fontFamily={axisFont} fill="#222">
                {lab}
              </text>
            </g>
          );
        })}
        <line x1={PLOT_R} x2={PLOT_R} y1={ST_BOTTOM} y2={H} stroke="#000" strokeWidth={1.2} />
        <text x={1814} y={865} fontSize={14} fontFamily="'Liberation Mono', 'DejaVu Sans Mono', monospace" fill="#222">
          1 Day
        </text>
      </svg>
    </div>
  );
}
